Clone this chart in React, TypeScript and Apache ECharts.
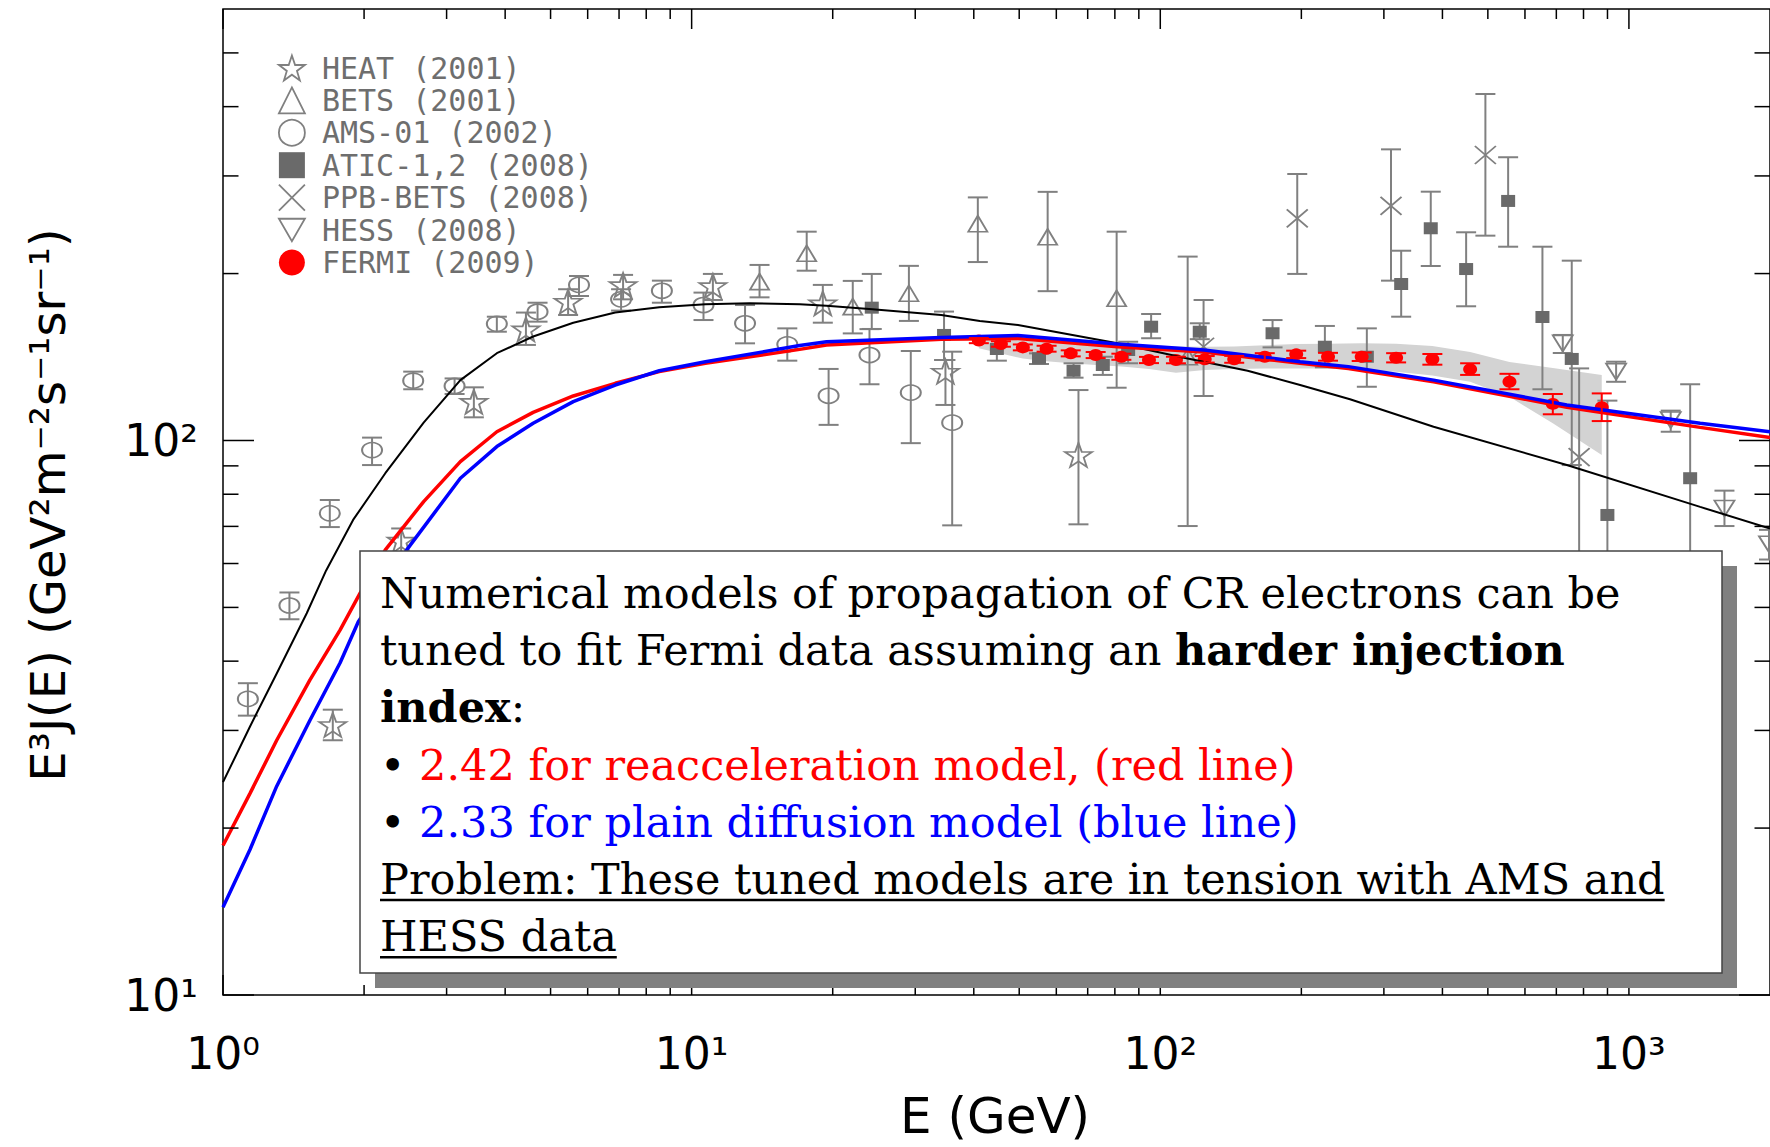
import React, { useEffect, useRef } from 'react';
import * as echarts from 'echarts';

// ---- axis ranges ----
const X_MIN = 1;
const X_MAX = 2000;
const Y_MIN = 10;
const Y_MAX = 600;

// ---- tick positions (all four sides) ----
const xMajorTicks = [1, 10, 100, 1000];
const xMinorTicks = [2, 3, 4, 5, 6, 7, 8, 9, 20, 30, 40, 50, 60, 70, 80, 90, 200, 300, 400, 500, 600, 700, 800, 900];
const yMajorTicks = [10, 100];
const yMinorTicks = [20, 30, 40, 50, 60, 70, 80, 90, 200, 300, 400, 500];

// ---- HEAT (2001) ----
const heatE = [1.715, 2.4, 3.43, 4.43, 5.45, 7.14, 11.1, 19.05, 34.8, 66.9];
const heatV = [30.7, 66, 117.5, 158.7, 178, 190.8, 190, 176.8, 133.1, 94.2];
const heatLo = [28.8, 61, 110.1, 148.7, 168.4, 179.7, 179.2, 163.1, 115.9, 70.6];
const heatHi = [32.7, 69.4, 124.7, 170.1, 187.4, 198.9, 199.7, 190.8, 139.7, 123.3];

// ---- BETS (2001) ----
const betsE = [13.96, 17.6, 22.07, 29.08, 40.8, 57.5, 80.7, 114.4];
const betsV = [193.4, 217.6, 174.3, 184.3, 246, 233, 180.5, 141.6];
const betsLo = [181.2, 202.4, 156, 164.3, 209.8, 185.9, 124.5, 70.1];
const betsHi = [207.3, 238, 194, 206.5, 274.4, 280.8, 238, 214.6];

// ---- AMS-01 (2002) ----
const amsE = [1.13, 1.386, 1.69, 2.08, 2.546, 3.12, 3.84, 4.69, 5.75, 7.07, 8.64, 10.6, 13.0, 16.0, 19.6, 23.96, 29.35, 35.97];
const amsV = [34.2, 50.4, 73.9, 96.1, 128.2, 125.4, 162.3, 170.7, 190.8, 179.7, 186.2, 175.5, 162.7, 149.1, 120.4, 142.6, 122, 107.7];
const amsLo = [31.9, 47.6, 69.8, 90.3, 123.7, 121.3, 157.1, 163.8, 182.2, 171.5, 177.2, 164.9, 149.7, 139.3, 106.7, 126.3, 98.9, 70.3];
const amsHi = [36.5, 53.2, 78.1, 101.2, 133.1, 129.4, 167.2, 177.2, 198, 187.4, 194.2, 184.8, 175.5, 159.3, 134.6, 158.8, 145, 144.6];

// ---- ATIC-1,2 (2008) ----
const aticE = [24.23, 34.56, 44.8, 55.1, 65.3, 75.4, 85.4, 95.6, 121.4, 173.6, 224.5, 275.9, 326.6, 377.7, 449.4, 552.4, 653.8, 755.1, 899.6, 1351];
const aticV = [173.6, 155, 146.2, 140.7, 133.6, 136.8, 145.6, 160.4, 157.1, 156.1, 147.6, 141.6, 191.5, 241.4, 203.8, 270.4, 167, 140.3, 73.4, 85.5];
const aticLo = [158.9, 139.7, 139.3, 137.4, 129.8, 131.3, 137.8, 152.9, 152.3, 147.2, 135.5, 125, 167.2, 206.4, 174.6, 223.6, 123.7, 90.3, 45, 50];
const aticHi = [199.7, 170.8, 152.9, 143.6, 137.8, 141.6, 150.7, 169.1, 162.7, 164.9, 160.9, 159.3, 219.9, 281, 237.4, 324.2, 223.6, 211, 118, 126.3];

// ---- PPB-BETS (2008) ----
const ppbE = [123.7, 196, 310.7, 494, 783];
const ppbV = [147.6, 251.6, 264.9, 327.2, 93.3];
const ppbLo = [120.3, 199.7, 194.2, 234.1, 55];
const ppbHi = [179.2, 302.4, 335, 421.6, 134.9];

// ---- HESS (2008) ----
const hessE = [722.5, 939, 1228, 1599, 1990];
const hessV = [149.7, 133.1, 108.9, 75.4, 65];
const hessLo = [143.8, 127.6, 103.7, 70.1, 61];
const hessHi = [155, 138.7, 113.2, 81.2, 69];

// ---- FERMI (2009) with systematic band ----
const fermiE = [41.0, 45.7, 50.9, 57.2, 64.4, 72.8, 82.6, 94.6, 108, 124.4, 143.8, 167.1, 195, 228, 269, 318.6, 380.7, 458.3, 556, 688, 875];
const fermiV = [151.4, 149.3, 147.2, 146.4, 143.6, 142.6, 141.6, 139.7, 139.7, 140.1, 140.1, 141.6, 143.0, 141.6, 141.6, 141.0, 140.1, 134.4, 127.6, 116.4, 114.8];
const fermiLo = [149.8, 147.6, 145.4, 144.6, 141.8, 140.8, 139.8, 137.9, 137.8, 138.2, 138.1, 139.5, 140.8, 139.3, 139.1, 138.3, 137.0, 131.3, 123.7, 111.5, 108.4];
const fermiHi = [153.0, 151.0, 149.0, 148.2, 145.4, 144.4, 143.4, 141.5, 141.6, 142.0, 142.1, 143.7, 145.2, 143.9, 144.1, 143.7, 143.2, 137.8, 131.9, 121.3, 121.6];
const fermiBandLo = [146.6, 143.5, 140.5, 139, 137.8, 136.8, 135.9, 134.5, 132.5, 134, 134.6, 134.8, 134.9, 134.9, 134, 133.1, 131, 127.6, 119.9, 107.4, 94.2];
const fermiBandHi = [153.7, 152.5, 151.5, 150.7, 150, 149.3, 148.7, 148.2, 147.8, 147.6, 147.8, 148.5, 149.3, 149.5, 149.7, 149.5, 148, 144.4, 138.5, 135.1, 131.3];

// ---- propagation model curves ----
const conventionalE = [1, 1.142, 1.302, 1.509, 1.66, 1.895, 2.22, 2.68, 3.21, 3.84, 4.59, 5.59, 6.87, 8.53, 10.7, 13.3, 17, 19.4, 24.3, 34.1, 41.2, 49.7, 81, 113.7, 153.6, 198.8, 254, 383, 737, 1419, 2000];
const conventionalV = [24.2, 30.5, 38.0, 48.8, 58.3, 71.9, 87.3, 107.7, 128.5, 143.7, 154, 163.1, 170.1, 173.9, 176.1, 176.8, 176.1, 175, 172.4, 168.4, 164.3, 161.6, 149.7, 140.7, 133.6, 125.9, 118.7, 105.9, 90.3, 75.9, 69.4];
const reaccE = [1, 1.142, 1.302, 1.533, 1.777, 1.96, 2.22, 2.68, 3.21, 3.84, 4.59, 5.59, 6.87, 8.53, 10.7, 17, 19.4, 34.1, 49.7, 81, 124, 198.8, 252, 383, 737, 1419, 2000];
const reaccV = [18.6, 23.1, 28.8, 37.0, 45.5, 53.0, 63.5, 77.6, 91.6, 103.7, 112.4, 120.3, 126.8, 133.1, 137.8, 146, 148.7, 152.2, 152.8, 147.6, 144.4, 137.8, 134.9, 127.6, 114.8, 105.6, 101.2];
const plainE = [1, 1.142, 1.302, 1.533, 1.777, 1.944, 2.466, 3.21, 3.84, 4.59, 5.59, 6.87, 8.53, 10.7, 17, 19.4, 34.1, 49.7, 81, 124, 198.8, 252, 383, 737, 1419, 2000];
const plainV = [14.4, 18.3, 23.8, 31.3, 39.7, 47.1, 63.5, 85.5, 97.5, 107.4, 117.5, 125.9, 133.6, 138.7, 148.3, 150.7, 153.4, 154.6, 149.3, 145.6, 138.7, 135.9, 128.5, 115.9, 107.4, 103.7];

// ---- text of the annotation box ----
const boxLines: [string, string][][] = [
  [['n', 'Numerical models of propagation of CR electrons can be']],
  [['n', 'tuned to fit Fermi data assuming an '], ['b', 'harder injection']],
  [['b', 'index'], ['n', ':']],
  [['n', '\u2022 '], ['r', '2.42 for reacceleration model, (red line)']],
  [['n', '\u2022 '], ['bl', '2.33 for plain diffusion model (blue line)']],
  [['n', 'Problem: These tuned models are in tension with AMS and']],
  [['n', 'HESS data']],
];
const underlinedLines = [5, 6];

const GRAY = '#808080';
const DARK_GRAY = '#6a6a6a';
const CLEAR = 'rgba(0,0,0,0)';
const STAR = 'path://M50,0 L61.8,35.3 L98.1,35.3 L68.8,57.1 L79.4,92.7 L50,71 L20.6,92.7 L31.2,57.1 L1.9,35.3 L38.2,35.3 Z';
const CROSS = 'path://M0,0 L10,10 M10,0 L0,10';
const DOWN_TRIANGLE = 'path://M0,0 L10,0 L5,8.66 Z';
const SUP = ['\u2070', '\u00b9', '\u00b2', '\u00b3'];

function powerLabel(v: number) {
  const l = Math.log10(v);
  const r = Math.round(l);
  return Math.abs(l - r) < 1e-6 && r >= 0 && r < SUP.length ? '10' + SUP[r] : '';
}

function measure(text: string, font: string) {
  const ctx = document.createElement('canvas').getContext('2d')!;
  ctx.font = font;
  return ctx.measureText(text).width;
}

function errorBars(name: string, E: number[], lo: number[], hi: number[], color: string, z: number) {
  return {
    type: 'custom',
    name,
    z,
    clip: true,
    silent: true,
    data: E.map((e, i) => [e, lo[i], hi[i]]),
    encode: { x: 0, y: [1, 2] },
    renderItem: (_p: any, api: any) => {
      const x = api.value(0);
      const top = api.coord([x, api.value(2)]);
      const bot = api.coord([x, api.value(1)]);
      const cw = 10;
      const style = { stroke: color, lineWidth: 2 };
      return {
        type: 'group',
        children: [
          { type: 'line', shape: { x1: top[0], y1: top[1], x2: bot[0], y2: bot[1] }, style },
          { type: 'line', shape: { x1: top[0] - cw, y1: top[1], x2: top[0] + cw, y2: top[1] }, style },
          { type: 'line', shape: { x1: bot[0] - cw, y1: bot[1], x2: bot[0] + cw, y2: bot[1] }, style },
        ],
      };
    },
  };
}

function markers(name: string, E: number[], V: number[], symbol: string, size: number[], fill: string, stroke: string, bw: number) {
  return {
    type: 'scatter',
    name,
    z: 3,
    silent: true,
    data: E.map((e, i) => [e, V[i]]),
    symbol,
    symbolSize: size,
    itemStyle: { color: fill, borderColor: stroke, borderWidth: bw, opacity: 1 },
  };
}

function curve(name: string, E: number[], V: number[], color: string, width: number, z: number) {
  return {
    type: 'line',
    name,
    z,
    silent: true,
    symbol: 'none',
    showSymbol: false,
    data: E.map((e, i) => [e, V[i]]),
    lineStyle: { color, width },
  };
}

function buildOption() {
  // annotation box layout
  const boxX = 360;
  const boxY = 551;
  const boxW = 1362;
  const boxH = 422;
  const textX = 380;
  const firstBaseline = 608;
  const lineStep = 57.2;
  const serif = '"DejaVu Serif", serif';
  const probe = 40;
  const w40 = measure(boxLines[0][0][1], `normal ${probe}px ${serif}`) || 1000;
  const fs = Math.round(probe * 1240 / w40 * 10) / 10;

  const rich = {
    n: { fontFamily: serif, fontSize: fs, fill: '#000' },
    b: { fontFamily: serif, fontSize: fs, fill: '#000', fontWeight: 'bold' },
    r: { fontFamily: serif, fontSize: fs, fill: '#ff0000' },
    bl: { fontFamily: serif, fontSize: fs, fill: '#0000ff' },
  };

  const textEls: any[] = boxLines.map((segs, i) => ({
    type: 'text',
    z: 102,
    x: textX,
    y: firstBaseline + i * lineStep - 0.35 * fs,
    style: {
      text: segs.map(([k, t]) => `{${k}|${t}}`).join(''),
      rich,
      fontFamily: serif,
      fontSize: fs,
      fill: '#000',
      align: 'left',
      verticalAlign: 'middle',
    },
  }));

  const underlineEls: any[] = underlinedLines.map((i) => {
    const w = boxLines[i].reduce((s, [, t]) => s + measure(t, `normal ${fs}px ${serif}`), 0);
    const y = firstBaseline + i * lineStep + 6;
    return {
      type: 'line',
      z: 102,
      shape: { x1: textX, y1: y, x2: textX + w, y2: y },
      style: { stroke: '#000', lineWidth: 2.5 },
    };
  });

  const tickStyle = { stroke: '#000', lineWidth: 1.5 };

  return {
    animation: false,
    backgroundColor: '#fff',
    grid: {
      left: 223,
      right: -1,
      top: 9,
      bottom: 152,
      show: true,
      borderColor: '#000',
      borderWidth: 1.5,
      backgroundColor: 'transparent',
    },
    xAxis: {
      type: 'log',
      logBase: 10,
      min: X_MIN,
      max: X_MAX,
      axisLine: { show: false },
      axisTick: { show: false },
      splitLine: { show: false },
      axisLabel: {
        formatter: powerLabel,
        fontFamily: 'DejaVu Sans',
        fontSize: 44,
        color: '#000',
        margin: 36,
        showMaxLabel: false,
      },
    },
    yAxis: {
      type: 'log',
      logBase: 10,
      min: Y_MIN,
      max: Y_MAX,
      axisLine: { show: false },
      axisTick: { show: false },
      splitLine: { show: false },
      axisLabel: {
        formatter: powerLabel,
        fontFamily: 'DejaVu Sans',
        fontSize: 44,
        color: '#000',
        margin: 25,
        showMaxLabel: false,
      },
    },
    legend: {
      orient: 'vertical',
      left: 278,
      top: 53,
      padding: 0,
      itemWidth: 26,
      itemHeight: 26,
      itemGap: 2.4,
      selectedMode: false,
      textStyle: {
        fontFamily: '"DejaVu Sans Mono", monospace',
        fontSize: 30,
        color: '#6e6e6e',
        padding: [0, 0, 0, 12],
      },
      data: [
        { name: 'HEAT (2001)', icon: STAR, itemStyle: { color: CLEAR, borderColor: GRAY, borderWidth: 1.8 } },
        { name: 'BETS (2001)', icon: 'triangle', itemStyle: { color: CLEAR, borderColor: GRAY, borderWidth: 1.8 } },
        { name: 'AMS-01 (2002)', icon: 'circle', itemStyle: { color: CLEAR, borderColor: GRAY, borderWidth: 1.8 } },
        { name: 'ATIC-1,2 (2008)', icon: 'rect', itemStyle: { color: DARK_GRAY, borderWidth: 0 } },
        { name: 'PPB-BETS (2008)', icon: CROSS, itemStyle: { color: CLEAR, borderColor: GRAY, borderWidth: 1.8 } },
        { name: 'HESS (2008)', icon: DOWN_TRIANGLE, itemStyle: { color: CLEAR, borderColor: GRAY, borderWidth: 1.8 } },
        { name: 'FERMI (2009)', icon: 'circle', itemStyle: { color: '#ff0000', borderWidth: 0 } },
      ],
    },
    series: [
      // Fermi systematic-uncertainty band
      {
        type: 'custom',
        name: 'Fermi systematics',
        z: 1,
        clip: true,
        silent: true,
        data: fermiE.map((e, i) => [e, fermiBandLo[i], fermiBandHi[i]]),
        encode: { x: 0, y: [1, 2] },
        renderItem: (p: any, api: any) => {
          if (p.dataIndex !== 0) return null;
          const upper = fermiE.map((e, i) => api.coord([e, fermiBandHi[i]]));
          const lower = fermiE.map((e, i) => api.coord([e, fermiBandLo[i]])).reverse();
          return { type: 'polygon', shape: { points: upper.concat(lower) }, style: { fill: '#d3d3d3' } };
        },
      },
      errorBars('HEAT err', heatE, heatLo, heatHi, GRAY, 2),
      errorBars('BETS err', betsE, betsLo, betsHi, GRAY, 2),
      errorBars('AMS err', amsE, amsLo, amsHi, GRAY, 2),
      errorBars('ATIC err', aticE, aticLo, aticHi, GRAY, 2),
      errorBars('PPB err', ppbE, ppbLo, ppbHi, GRAY, 2),
      errorBars('HESS err', hessE, hessLo, hessHi, GRAY, 2),
      markers('HEAT (2001)', heatE, heatV, STAR, [27, 24], CLEAR, GRAY, 1.8),
      markers('BETS (2001)', betsE, betsV, 'triangle', [19, 16], CLEAR, GRAY, 1.8),
      markers('AMS-01 (2002)', amsE, amsV, 'circle', [20, 15], CLEAR, GRAY, 1.8),
      markers('ATIC-1,2 (2008)', aticE, aticV, 'rect', [14, 12], DARK_GRAY, DARK_GRAY, 0),
      markers('PPB-BETS (2008)', ppbE, ppbV, CROSS, [21, 18], CLEAR, GRAY, 1.8),
      markers('HESS (2008)', hessE, hessV, DOWN_TRIANGLE, [20, 16], CLEAR, GRAY, 1.8),
      curve('Conventional model', conventionalE, conventionalV, '#000', 2, 4),
      curve('Reacceleration model', reaccE, reaccV, '#ff0000', 3.5, 4),
      curve('Plain diffusion model', plainE, plainV, '#0000ff', 3.5, 4),
      errorBars('FERMI err', fermiE, fermiLo, fermiHi, '#ff0000', 5),
      markers('FERMI (2009)', fermiE, fermiV, 'circle', [14, 12], '#ff0000', '#ff0000', 0),
      // inward ticks on bottom and top edges
      {
        type: 'custom',
        name: 'x ticks',
        z: 6,
        clip: false,
        silent: true,
        data: xMajorTicks.map((v) => [v, Y_MIN, 1]).concat(xMinorTicks.map((v) => [v, Y_MIN, 0])),
        encode: { x: 0, y: 1 },
        renderItem: (_p: any, api: any) => {
          const v = api.value(0);
          const len = api.value(2) ? 20 : 10;
          const b = api.coord([v, Y_MIN]);
          const t = api.coord([v, Y_MAX]);
          return {
            type: 'group',
            children: [
              { type: 'line', shape: { x1: b[0], y1: b[1], x2: b[0], y2: b[1] - len }, style: tickStyle },
              { type: 'line', shape: { x1: t[0], y1: t[1], x2: t[0], y2: t[1] + len }, style: tickStyle },
            ],
          };
        },
      },
      // inward ticks on left and right edges
      {
        type: 'custom',
        name: 'y ticks',
        z: 6,
        clip: false,
        silent: true,
        data: yMajorTicks.map((v) => [X_MIN, v, 1]).concat(yMinorTicks.map((v) => [X_MIN, v, 0])),
        encode: { x: 0, y: 1 },
        renderItem: (_p: any, api: any) => {
          const v = api.value(1);
          const len = api.value(2) ? 31 : 15.5;
          const l = api.coord([X_MIN, v]);
          const r = api.coord([X_MAX, v]);
          return {
            type: 'group',
            children: [
              { type: 'line', shape: { x1: l[0], y1: l[1], x2: l[0] + len, y2: l[1] }, style: tickStyle },
              { type: 'line', shape: { x1: r[0], y1: r[1], x2: r[0] - len, y2: r[1] }, style: tickStyle },
            ],
          };
        },
      },
    ],
    graphic: [
      {
        type: 'text',
        z: 100,
        x: 48,
        y: 505,
        rotation: Math.PI / 2,
        style: {
          text: 'E\u00b3J(E) (GeV\u00b2m\u207b\u00b2s\u207b\u00b9sr\u207b\u00b9)',
          fontFamily: 'DejaVu Sans',
          fontSize: 48,
          fill: '#000',
          align: 'center',
          verticalAlign: 'middle',
        },
      },
      {
        type: 'text',
        z: 100,
        x: 995,
        y: 1116,
        style: {
          text: 'E (GeV)',
          fontFamily: 'DejaVu Sans',
          fontSize: 50,
          fill: '#000',
          align: 'center',
          verticalAlign: 'middle',
        },
      },
      // annotation box: drop shadow, white panel, text
      {
        type: 'rect',
        z: 100,
        shape: { x: boxX + 15, y: boxY + 15, width: boxW, height: boxH },
        style: { fill: '#808080' },
      },
      {
        type: 'rect',
        z: 101,
        shape: { x: boxX, y: boxY, width: boxW, height: boxH },
        style: { fill: '#fff', stroke: '#444', lineWidth: 1.5 },
      },
      ...textEls,
      ...underlineEls,
    ],
  };
}

export default function App() {
  const ref = useRef<HTMLDivElement>(null);
  useEffect(() => {
    const chart = echarts.init(ref.current!, undefined, { renderer: 'svg' });
    chart.setOption(buildOption() as any);
    return () => chart.dispose();
  }, []);
  return (
    <div
      ref={ref}
      style={{ position: 'fixed', left: 0, top: 0, width: 1770, height: 1147, background: '#fff' }}
    />
  );
}
